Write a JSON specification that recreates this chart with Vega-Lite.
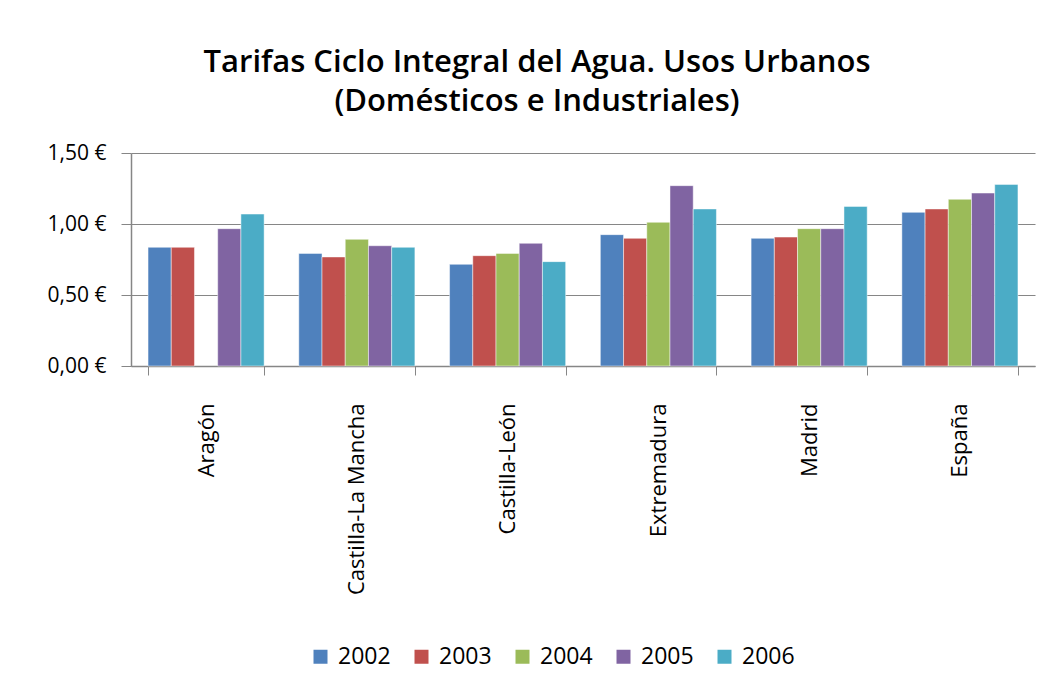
{
  "$schema": "https://vega.github.io/schema/vega-lite/v6.json",
  "width": 904,
  "height": 213,
  "autosize": "none",
  "padding": {"left": 131, "top": 153, "right": 19, "bottom": 318},
  "background": "white",
  "title": {
    "text": ["Tarifas Ciclo Integral del Agua. Usos Urbanos", "(Domésticos e Industriales)"],
    "font": "Open Sans",
    "fontSize": 31,
    "fontWeight": 600,
    "color": "#000000",
    "lineHeight": 39,
    "anchor": "middle",
    "dx": -46,
    "offset": 24
  },
  "data": {
    "values": [
      {"region": "Aragón", "year": "2002", "value": 0.836},
      {"region": "Aragón", "year": "2003", "value": 0.836},
      {"region": "Aragón", "year": "2005", "value": 0.967},
      {"region": "Aragón", "year": "2006", "value": 1.070},
      {"region": "Castilla-La Mancha", "year": "2002", "value": 0.793},
      {"region": "Castilla-La Mancha", "year": "2003", "value": 0.768},
      {"region": "Castilla-La Mancha", "year": "2004", "value": 0.892},
      {"region": "Castilla-La Mancha", "year": "2005", "value": 0.847},
      {"region": "Castilla-La Mancha", "year": "2006", "value": 0.836},
      {"region": "Castilla-León", "year": "2002", "value": 0.716},
      {"region": "Castilla-León", "year": "2003", "value": 0.777},
      {"region": "Castilla-León", "year": "2004", "value": 0.793},
      {"region": "Castilla-León", "year": "2005", "value": 0.864},
      {"region": "Castilla-León", "year": "2006", "value": 0.735},
      {"region": "Extremadura", "year": "2002", "value": 0.925},
      {"region": "Extremadura", "year": "2003", "value": 0.899},
      {"region": "Extremadura", "year": "2004", "value": 1.012},
      {"region": "Extremadura", "year": "2005", "value": 1.270},
      {"region": "Extremadura", "year": "2006", "value": 1.106},
      {"region": "Madrid", "year": "2002", "value": 0.899},
      {"region": "Madrid", "year": "2003", "value": 0.908},
      {"region": "Madrid", "year": "2004", "value": 0.967},
      {"region": "Madrid", "year": "2005", "value": 0.967},
      {"region": "Madrid", "year": "2006", "value": 1.124},
      {"region": "España", "year": "2002", "value": 1.082},
      {"region": "España", "year": "2003", "value": 1.106},
      {"region": "España", "year": "2004", "value": 1.174},
      {"region": "España", "year": "2005", "value": 1.218},
      {"region": "España", "year": "2006", "value": 1.279}
    ]
  },
  "mark": {"type": "bar", "stroke": "#ffffff", "strokeWidth": 0.8, "strokeOpacity": 0.6},
  "encoding": {
    "x": {
      "field": "region",
      "type": "nominal",
      "sort": ["Aragón", "Castilla-La Mancha", "Castilla-León", "Extremadura", "Madrid", "España"],
      "scale": {"paddingInner": 0.23, "paddingOuter": 0.113},
      "axis": {
        "title": null,
        "labelAngle": -90,
        "labelAlign": "right",
        "labelBaseline": "middle",
        "labelFont": "Open Sans",
        "labelFontSize": 22,
        "labelColor": "#000000",
        "labelPadding": 28,
        "labelLimit": 400,
        "tickBand": "extent",
        "tickSize": 9,
        "tickColor": "#868686",
        "domainColor": "#868686",
        "domainWidth": 1.5,
        "grid": false
      }
    },
    "xOffset": {
      "field": "year",
      "type": "nominal",
      "scale": {"domain": ["2002", "2003", "2004", "2005", "2006"], "paddingInner": 0, "paddingOuter": 0}
    },
    "y": {
      "field": "value",
      "type": "quantitative",
      "scale": {"domain": [0, 1.5], "nice": false},
      "axis": {
        "title": null,
        "values": [0, 0.5, 1, 1.5],
        "labelExpr": "replace(format(datum.value, '.2f'), '.', ',') + ' €'",
        "labelFont": "Open Sans",
        "labelFontSize": 21,
        "labelColor": "#000000",
        "labelPadding": 15,
        "tickSize": 10,
        "tickColor": "#868686",
        "domainColor": "#868686",
        "domainWidth": 1.5,
        "grid": true,
        "gridColor": "#868686",
        "gridWidth": 1.2
      }
    },
    "color": {
      "field": "year",
      "type": "nominal",
      "scale": {
        "domain": ["2002", "2003", "2004", "2005", "2006"],
        "range": ["#4F81BD", "#C0504D", "#9BBB59", "#8064A2", "#4BACC6"]
      },
      "legend": {
        "title": null,
        "orient": "none",
        "direction": "horizontal",
        "columns": 5,
        "legendX": 178,
        "legendY": 492,
        "symbolType": "square",
        "symbolSize": 196,
        "symbolStrokeWidth": 0,
        "labelFont": "Open Sans",
        "labelFontSize": 23,
        "labelColor": "#000000",
        "labelOffset": 6,
        "columnPadding": 19
      }
    }
  },
  "config": {"view": {"stroke": null}}
}
